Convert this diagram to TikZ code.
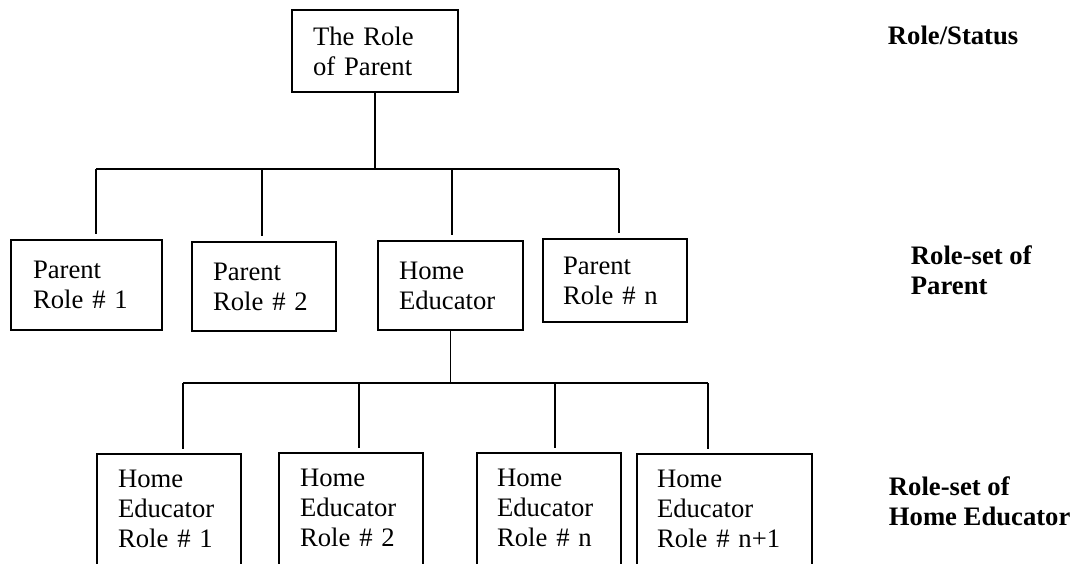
\documentclass[tikz,border=0pt]{standalone}
\usepackage{fontspec}
\setmainfont{Liberation Serif}
\usetikzlibrary{calc}
\begin{document}
\begin{tikzpicture}[x=0.75pt,y=-0.75pt,
  line width=1.4pt,
  txt/.style={font=\fontsize{20pt}{22.5pt}\selectfont},
  box/.style={txt,draw,rectangle,align=left,inner ysep=0pt},
  openbox/.style={txt,draw,rectangle,align=left,anchor=north,inner ysep=12pt,
    execute at end node={\rule[-9pt]{0pt}{9pt}}},
  side/.style={txt,font=\fontsize{20pt}{22.5pt}\selectfont\bfseries,align=left,anchor=north west,inner sep=0pt}]
\useasboundingbox (0,0) rectangle (1076,564);
\clip (0,0) rectangle (1076,564);

% status
\node[box,minimum width=124.5pt,minimum height=61.5pt,inner xsep=15.75pt,text width=93pt] (top) at (375,51) {The Role\\of Parent};

% role-set of parent
\node[box,minimum width=113.25pt,minimum height=67.5pt,inner xsep=16.5pt,text width=80.25pt] (p1) at (86.5,285) {Parent\\Role \# 1};
\node[box,minimum width=108pt,minimum height=66.75pt,inner xsep=15.75pt,text width=76.5pt] (p2) at (264,286.5) {Parent\\Role \# 2};
\node[box,minimum width=108.75pt,minimum height=66.75pt,inner xsep=15.75pt,text width=77.25pt] (he) at (450.5,285.5) {Home\\Educator};
\node[box,minimum width=108pt,minimum height=62.25pt,inner xsep=15pt,text width=78pt] (pn) at (615,280.5) {Parent\\Role \# n};

% role-set of home educator
\node[openbox,inner xsep=15.75pt,text width=76.5pt] (h1) at (169,453) {Home\\Educator\\Role \# 1};
\node[openbox,inner xsep=15.75pt,text width=76.5pt] (h2) at (351,452) {Home\\Educator\\Role \# 2};
\node[openbox,inner xsep=15pt,text width=78pt] (hn) at (549,452) {Home\\Educator\\Role \# n};
\node[openbox,inner xsep=15pt,text width=101.25pt] (hn1) at (724.5,453) {Home\\Educator\\Role \# n+1};

% level captions
\node[side] (lvl1) at (887,25) {Role/Status};
\node[side] (lvl2) at (910,245) {Role-set of\\Parent};
\node[side] (lvl3) at (888,476) {Role-set of\\Home Educator};

% first branching
\coordinate (d1) at (96,169);
\coordinate (d2) at (262,169);
\coordinate (d3) at (452,169);
\coordinate (d4) at (619,169);
\draw (top.south) -- (top.south |- d1);
\draw (d1) -- (d4);
\draw (d1) -- ($(d1 |- p1.north)+(0,-5)$);
\draw (d2) -- ($(d2 |- p2.north)+(0,-5)$);
\draw (d3) -- ($(d3 |- he.north)+(0,-5)$);
\draw (d4) -- ($(d4 |- pn.north)+(0,-5)$);

% second branching
\coordinate (e1) at (183,383);
\coordinate (e2) at (359,383);
\coordinate (e3) at (555,383);
\coordinate (e4) at (708,383);
\draw (he.south) -- (he.south |- e1);
\draw (e1) -- (e4);
\draw (e1) -- ($(e1 |- h1.north)+(0,-4)$);
\draw (e2) -- ($(e2 |- h2.north)+(0,-4)$);
\draw (e3) -- ($(e3 |- hn.north)+(0,-4)$);
\draw (e4) -- ($(e4 |- hn1.north)+(0,-4)$);
\end{tikzpicture}
\end{document}
